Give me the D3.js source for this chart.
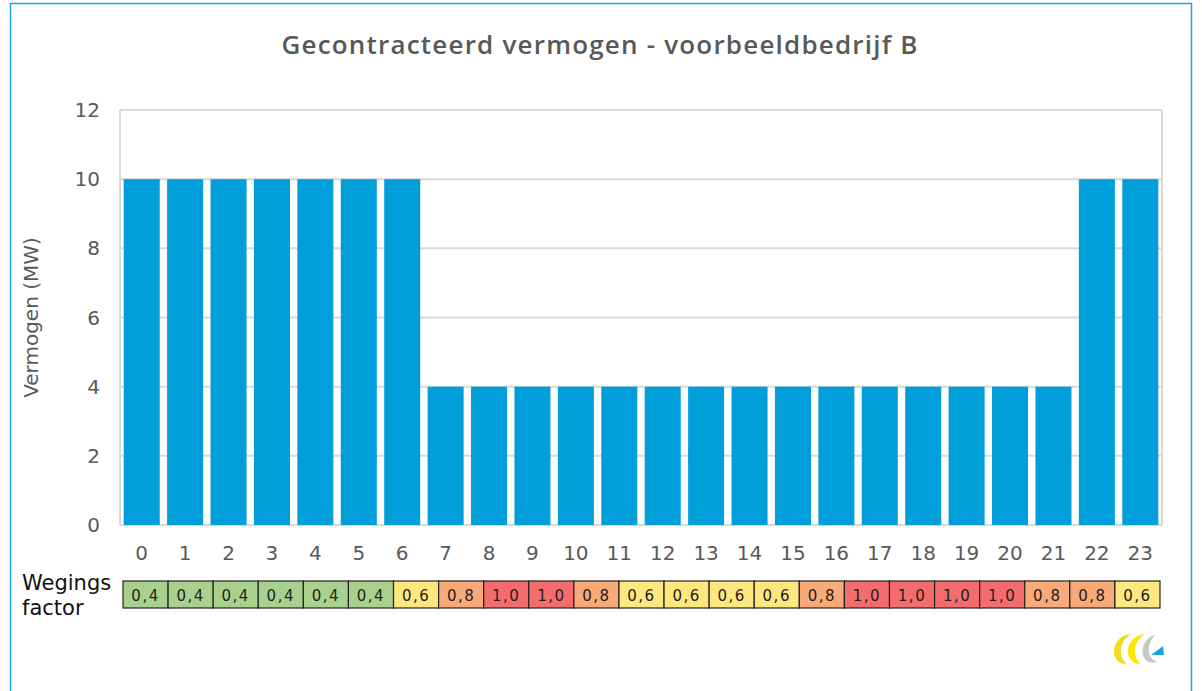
<!DOCTYPE html>
<html lang="nl">
<head>
<meta charset="utf-8">
<title>Gecontracteerd vermogen</title>
<script src="https://cdn.jsdelivr.net/npm/d3@7"></script>
<style>
  body { margin: 0; background: #fff; }
  text { font-family: "DejaVu Sans", sans-serif; }
</style>
</head>
<body>
<script>
// data
var hours = d3.range(0, 24);
var vermogen = [10,10,10,10,10,10,10,4,4,4,4,4,4,4,4,4,4,4,4,4,4,4,10,10];
// the weging table in the picture has 23 cells
var weging = [0.4,0.4,0.4,0.4,0.4,0.4,0.6,0.8,1.0,1.0,0.8,0.6,0.6,0.6,0.6,0.8,1.0,1.0,1.0,1.0,0.8,0.8,0.6];
var yTicks = [0, 2, 4, 6, 8, 10, 12];

var w = 1202, h = 691;
var margin = {left: 120, right: 40, top: 110, bottom: 166};

var svg = d3.select("body").append("svg")
  .attr("width", w).attr("height", h);

// outer frame
svg.append("rect")
  .attr("x", 10.5).attr("y", 3.5)
  .attr("width", 1181).attr("height", 700)
  .attr("fill", "#fff").attr("stroke", "#1aa3e0").attr("stroke-width", 1.5);

var x = d3.scaleBand().domain(hours).range([margin.left, w - margin.right]).paddingInner(0.17).paddingOuter(0.085);
var y = d3.scaleLinear().domain([0, 12]).range([h - margin.bottom, margin.top]);

// gridlines
svg.selectAll("line.grid")
  .data(yTicks)
  .enter().append("line")
  .attr("class", "grid")
  .attr("x1", margin.left).attr("x2", w - margin.right)
  .attr("y1", function(d){ return y(d); })
  .attr("y2", function(d){ return y(d); })
  .attr("stroke", "#d9d9d9").attr("stroke-width", 2);

// plot border sides
svg.append("line")
  .attr("x1", margin.left).attr("x2", margin.left)
  .attr("y1", y(12)).attr("y2", y(0))
  .attr("stroke", "#d9d9d9").attr("stroke-width", 2);
svg.append("line")
  .attr("x1", w - margin.right).attr("x2", w - margin.right)
  .attr("y1", y(12)).attr("y2", y(0))
  .attr("stroke", "#d9d9d9").attr("stroke-width", 2);

// bars
svg.selectAll("rect.bar")
  .data(vermogen)
  .enter().append("rect")
  .attr("class", "bar")
  .attr("x", function(d, i){ return x(i); })
  .attr("y", function(d){ return y(d); })
  .attr("width", x.bandwidth())
  .attr("height", function(d){ return y(0) - y(d); })
  .attr("fill", "#009fda");

// y axis labels
svg.selectAll("text.ytick")
  .data(yTicks)
  .enter().append("text")
  .attr("class", "ytick")
  .attr("x", 100)
  .attr("y", function(d){ return y(d) + 7; })
  .attr("text-anchor", "end")
  .attr("font-size", 20)
  .attr("fill", "#595959")
  .text(function(d){ return d; });

// x axis labels
svg.selectAll("text.xtick")
  .data(hours)
  .enter().append("text")
  .attr("class", "xtick")
  .attr("x", function(d){ return x(d) + x.bandwidth() / 2; })
  .attr("y", 560)
  .attr("text-anchor", "middle")
  .attr("font-size", 20)
  .attr("fill", "#595959")
  .text(function(d){ return d; });

// title
svg.append("text")
  .attr("x", 600).attr("y", 54)
  .attr("text-anchor", "middle")
  .attr("font-size", 26)
  .attr("font-weight", 600)
  .attr("letter-spacing", 1.2)
  .style("font-family", "'Open Sans', sans-serif")
  .attr("fill", "#595959")
  .text("Gecontracteerd vermogen - voorbeeldbedrijf B");

// y axis title
svg.append("text")
  .attr("transform", "translate(38," + y(6) + ") rotate(-90)")
  .attr("text-anchor", "middle")
  .attr("font-size", 20)
  .attr("fill", "#595959")
  .text("Vermogen (MW)");

// weging table
var colour = d3.scaleOrdinal()
  .domain([0.4, 0.6, 0.8, 1.0])
  .range(["#a9d18e", "#ffe780", "#f8aa78", "#f46c6c"]);
var cellX = d3.scaleBand().domain(d3.range(weging.length)).range([123, 1160]);

svg.selectAll("rect.cell")
  .data(weging)
  .enter().append("rect")
  .attr("class", "cell")
  .attr("x", function(d, i){ return cellX(i); })
  .attr("y", 581)
  .attr("width", cellX.bandwidth())
  .attr("height", 27)
  .attr("fill", function(d){ return colour(d); })
  .attr("stroke", "#222").attr("stroke-width", 1.2);

svg.selectAll("text.cell")
  .data(weging)
  .enter().append("text")
  .attr("class", "cell")
  .attr("x", function(d, i){ return cellX(i) + cellX.bandwidth() / 2; })
  .attr("y", 601)
  .attr("text-anchor", "middle")
  .attr("font-size", 15)
  .attr("letter-spacing", 1.5)
  .attr("fill", "#222")
  .text(function(d){ return d.toFixed(1).replace(".", ","); });

svg.append("text")
  .attr("x", 22).attr("y", 590)
  .attr("font-size", 21)
  .attr("fill", "#111")
  .text("Wegings");
svg.append("text")
  .attr("x", 22).attr("y", 615)
  .attr("font-size", 21)
  .attr("fill", "#111")
  .text("factor");

// small logo
var logo = svg.append("g").attr("transform", "translate(1113,633)");
logo.append("path")
  .attr("d", "M18,1 C6,2 0,12 1,20 C2,28 8,31 14,31 C9,27 7,21 8,16 C9,9 13,4 18,1 Z")
  .attr("fill", "#f0dc1e");
logo.append("path")
  .attr("d", "M32,1 C20,2 14,12 15,20 C16,28 22,31 28,31 C23,27 21,21 22,16 C23,9 27,4 32,1 Z")
  .attr("fill", "#ffe600");
logo.append("path")
  .attr("d", "M42,2 C33,4 28,14 30,22 C32,29 38,31 44,29 C37,26 35,20 36,14 C37,9 39,5 42,2 Z")
  .attr("fill", "#c8c8c8");
logo.append("path")
  .attr("d", "M38,22 L50,13 L51,22 Z")
  .attr("fill", "#1aa3e0");
</script>
</body>
</html>
